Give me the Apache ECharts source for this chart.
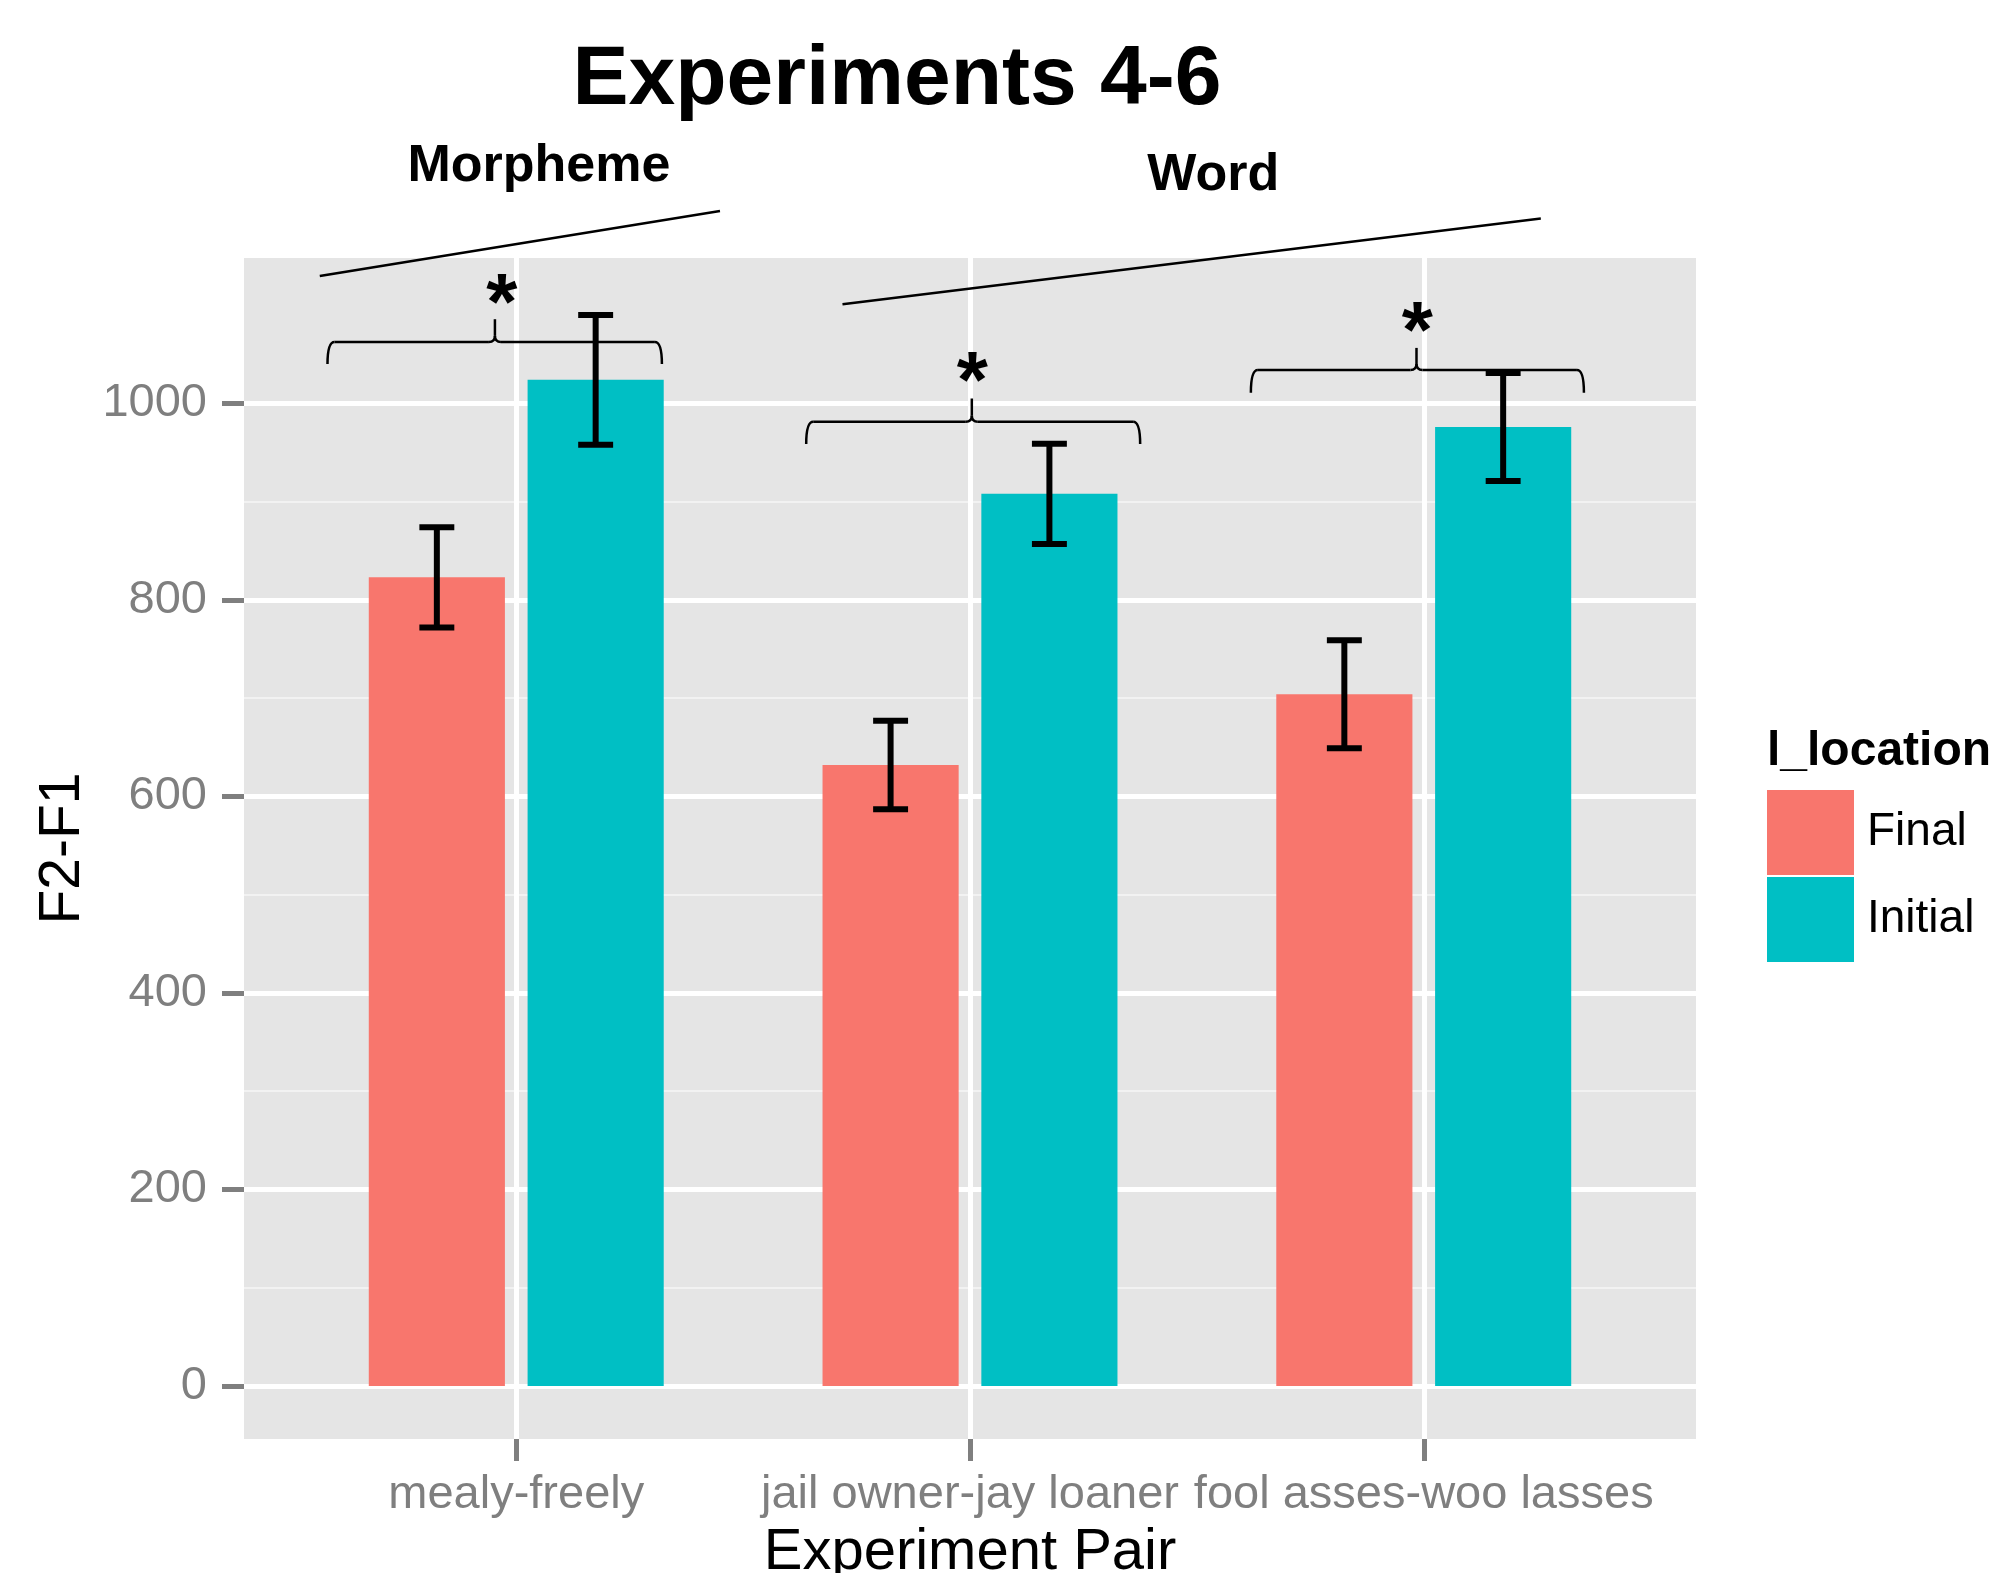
<!DOCTYPE html>
<html>
<head>
<meta charset="utf-8">
<script src="https://cdn.jsdelivr.net/npm/echarts@6/dist/echarts.min.js"></script>
<style>
  html, body { margin: 0; padding: 0; background: #ffffff; }
  #chart { width: 2002px; height: 1573px; }
</style>
</head>
<body>
<div id="chart"></div>
<script>
// ---- data ----
const categories = ['mealy-freely', 'jail owner-jay loaner', 'fool asses-woo lasses'];
const finalMean = [823, 632, 704];
const finalSE = [51, 45, 55];
const initialMean = [1024, 908, 976];
const initialSE = [66, 51, 55];
const seriesNames = ['Final', 'Initial'];
const yTicks = [0, 200, 400, 600, 800, 1000];
const yMinorTicks = [100, 300, 500, 700, 900];
const xTicks = [1, 2, 3];

// significance braces: x start, x end, x of the point, y of the ends, y of the bar, y of the point
const braces = [
  [0.584, 1.321, 0.953, 1040, 1062.6, 1085.7],
  [1.639, 2.375, 2.004, 958.6, 981.3, 1005],
  [2.619, 3.353, 2.984, 1010.8, 1033.9, 1056.5]
];
// asterisks above the braces: x, y
const stars = [[0.968, 1098], [2.005, 1019], [2.986, 1070]];
// group lines (x1, y1, x2, y2) and group labels (text, x, y)
const groupLines = [[0.567, 1129.7, 1.449, 1195.8], [1.719, 1101, 3.258, 1188.1]];
const groupLabels = [['Morpheme', 1.05, 1241.3], ['Word', 2.536, 1232]];

// ---- scales ----
const X_MIN = 0.4, X_MAX = 3.6;
const Y_MIN = -54, Y_MAX = 1148;
const BAR_WIDTH = 0.3;     // in category units
const DODGE = 0.175;       // centre offset of each bar from its category
const CAP_WIDTH = 0.077;   // error bar cap width, category units

const FONT = 'Liberation Sans, Arial, Helvetica, sans-serif';
const COLORS = { Final: '#F8766D', Initial: '#00BFC4' };

function barItem(offset) {
  return function (params, api) {
    const x = api.value(0) + offset;
    const tl = api.coord([x - BAR_WIDTH / 2, api.value(1)]);
    const br = api.coord([x + BAR_WIDTH / 2, 0]);
    return {
      type: 'rect',
      shape: { x: tl[0], y: tl[1], width: br[0] - tl[0], height: br[1] - tl[1] },
      style: { fill: api.visual('color') }
    };
  };
}

function errorItem(offset) {
  return function (params, api) {
    const x = api.value(0) + offset;
    const m = api.value(1), se = api.value(2);
    const top = api.coord([x, m + se]);
    const bot = api.coord([x, m - se]);
    const half = api.size([CAP_WIDTH / 2, 0])[0];
    const style = { stroke: '#000000', lineWidth: 6, lineCap: 'butt' };
    return {
      type: 'group',
      children: [
        { type: 'line', shape: { x1: top[0], y1: top[1], x2: bot[0], y2: bot[1] }, style },
        { type: 'line', shape: { x1: top[0] - half, y1: top[1], x2: top[0] + half, y2: top[1] }, style },
        { type: 'line', shape: { x1: bot[0] - half, y1: bot[1], x2: bot[0] + half, y2: bot[1] }, style }
      ]
    };
  };
}

function braceItem(params, api) {
  const xs = api.value(0), xe = api.value(1), xt = api.value(2);
  const yEnd = api.value(3), yBase = api.value(4), yTip = api.value(5);
  const L = api.coord([xs, yEnd]);
  const R = api.coord([xe, yEnd]);
  const T = api.coord([xt, yTip]);
  const yb = api.coord([xt, yBase])[1];
  const r = 7, c = 6;
  const style = { stroke: '#000000', lineWidth: 2.5, fill: null };
  return {
    type: 'group',
    children: [
      { type: 'bezierCurve', shape: { x1: L[0], y1: L[1], cpx1: L[0], cpy1: yb, x2: L[0] + r, y2: yb }, style },
      { type: 'line', shape: { x1: L[0] + r, y1: yb, x2: T[0] - c, y2: yb }, style },
      { type: 'bezierCurve', shape: { x1: T[0] - c, y1: yb, cpx1: T[0], cpy1: yb, x2: T[0], y2: yb - c }, style },
      { type: 'line', shape: { x1: T[0], y1: yb - c, x2: T[0], y2: T[1] }, style },
      { type: 'bezierCurve', shape: { x1: T[0] + c, y1: yb, cpx1: T[0], cpy1: yb, x2: T[0], y2: yb - c }, style },
      { type: 'line', shape: { x1: T[0] + c, y1: yb, x2: R[0] - r, y2: yb }, style },
      { type: 'bezierCurve', shape: { x1: R[0] - r, y1: yb, cpx1: R[0], cpy1: yb, x2: R[0], y2: R[1] }, style }
    ]
  };
}

function starItem(params, api) {
  const p = api.coord([api.value(0), api.value(1)]);
  return {
    type: 'text', x: p[0], y: p[1],
    style: { text: '*', fontSize: 80, fontWeight: 'bold', fontFamily: FONT, fill: '#000', align: 'center', verticalAlign: 'middle' }
  };
}

function groupLineItem(params, api) {
  const a = api.coord([api.value(0), api.value(1)]);
  const b = api.coord([api.value(2), api.value(3)]);
  return { type: 'line', shape: { x1: a[0], y1: a[1], x2: b[0], y2: b[1] }, style: { stroke: '#000', lineWidth: 2.5 } };
}

function groupLabelItem(params, api) {
  const p = api.coord([api.value(1), api.value(2)]);
  return {
    type: 'text', x: p[0], y: p[1],
    style: { text: groupLabels[params.dataIndex][0], fontSize: 52, fontWeight: 'bold', fontFamily: FONT, fill: '#000', align: 'center', verticalAlign: 'middle' }
  };
}

const finalBars = categories.map((c, i) => [i + 1, finalMean[i], finalSE[i]]);
const initialBars = categories.map((c, i) => [i + 1, initialMean[i], initialSE[i]]);

const chart = echarts.init(document.getElementById('chart'), null, { renderer: 'canvas' });
chart.setOption({
  animation: false,
  backgroundColor: '#ffffff',
  title: [
    {
      text: 'Experiments 4-6', left: 897, top: 81, padding: 0,
      textAlign: 'center', textVerticalAlign: 'middle',
      textStyle: { fontSize: 84, fontWeight: 'bold', fontFamily: FONT, color: '#000' }
    },
    {
      text: 'l_location', left: 1767, top: 752, padding: 0,
      textAlign: 'left', textVerticalAlign: 'middle',
      textStyle: { fontSize: 48, fontWeight: 'bold', fontFamily: FONT, color: '#000' }
    }
  ],
  legend: {
    data: seriesNames,
    orient: 'vertical',
    left: 1767, top: 790,
    padding: 0,
    icon: 'rect',
    itemWidth: 87, itemHeight: 85, itemGap: 2,
    selectedMode: false,
    textStyle: { fontSize: 46, fontFamily: FONT, color: '#000', padding: [0, 0, 0, 8] }
  },
  grid: {
    left: 244, top: 258, width: 1452, height: 1181,
    show: true, backgroundColor: '#E5E5E5', borderWidth: 0,
    containLabel: false, outerBoundsMode: 'none'
  },
  xAxis: {
    type: 'value', min: X_MIN, max: X_MAX,
    axisLine: { show: false, onZero: false },
    axisTick: { show: true, length: 22, customValues: xTicks, lineStyle: { color: '#7F7F7F', width: 5 } },
    axisLabel: {
      customValues: xTicks, margin: 33,
      formatter: v => categories[Math.round(v) - 1],
      color: '#7F7F7F', fontSize: 47, fontFamily: FONT
    },
    splitLine: { show: true, lineStyle: { color: '#ffffff', width: 5 } },
    name: 'Experiment Pair', nameLocation: 'middle', nameGap: 81,
    nameTextStyle: { fontSize: 58, fontFamily: FONT, color: '#000' }
  },
  yAxis: [
    {
      type: 'value', min: Y_MIN, max: Y_MAX,
      axisLine: { show: false, onZero: false },
      axisTick: { show: true, length: 22, customValues: yTicks, lineStyle: { color: '#7F7F7F', width: 5 } },
      axisLabel: { customValues: yTicks, margin: 37, formatter: v => String(v), color: '#7F7F7F', fontSize: 47, fontFamily: FONT },
      splitLine: { show: true, lineStyle: { color: '#ffffff', width: 5 } },
      name: 'F2-F1', nameLocation: 'middle', nameGap: 148, nameRotate: 90,
      nameTextStyle: { fontSize: 57, fontFamily: FONT, color: '#000' }
    },
    {
      type: 'value', min: Y_MIN, max: Y_MAX,
      axisLine: { show: false, onZero: false },
      axisTick: { show: false, customValues: yMinorTicks },
      axisLabel: { show: false },
      splitLine: { show: true, lineStyle: { color: '#F2F2F2', width: 2 } }
    }
  ],
  series: [
    {
      name: 'Final', type: 'custom', renderItem: barItem(-DODGE), data: finalBars,
      itemStyle: { color: COLORS.Final }, encode: { x: 0, y: 1 }, silent: true
    },
    {
      name: 'Initial', type: 'custom', renderItem: barItem(DODGE), data: initialBars,
      itemStyle: { color: COLORS.Initial }, encode: { x: 0, y: 1 }, silent: true
    },
    {
      name: 'Final SE', type: 'custom', renderItem: errorItem(-DODGE), data: finalBars,
      encode: { x: 0, y: 1 }, z: 3, silent: true
    },
    {
      name: 'Initial SE', type: 'custom', renderItem: errorItem(DODGE), data: initialBars,
      encode: { x: 0, y: 1 }, z: 3, silent: true
    },
    {
      name: 'braces', type: 'custom', renderItem: braceItem, data: braces,
      encode: { x: 0, y: 3 }, z: 4, clip: false, silent: true
    },
    {
      name: 'stars', type: 'custom', renderItem: starItem, data: stars,
      encode: { x: 0, y: 1 }, z: 4, clip: false, silent: true
    },
    {
      name: 'group lines', type: 'custom', renderItem: groupLineItem, data: groupLines,
      encode: { x: 0, y: 1 }, z: 4, clip: false, silent: true
    },
    {
      name: 'group labels', type: 'custom', renderItem: groupLabelItem,
      data: groupLabels.map(g => [0, g[1], g[2]]),
      encode: { x: 1, y: 2 }, z: 4, clip: false, silent: true
    }
  ]
});
</script>
</body>
</html>
